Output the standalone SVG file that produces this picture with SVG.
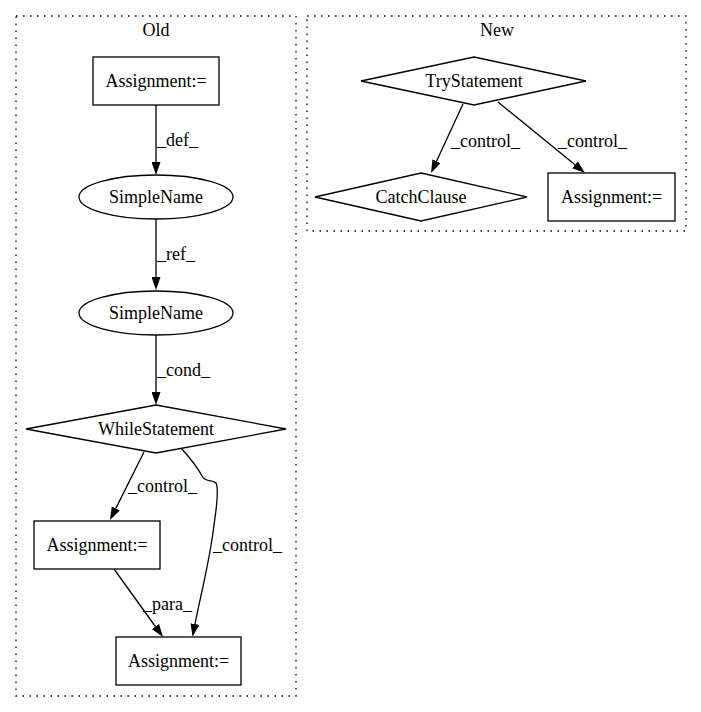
<svg xmlns="http://www.w3.org/2000/svg" width="701" height="712" viewBox="0 0 701 712">
<defs>
<style>
text{font-family:"Liberation Serif","Times New Roman",serif;font-size:18px;fill:#000}
.c{text-anchor:middle}
.shape{fill:#fff;stroke:#000;stroke-width:1.3}
.cluster{fill:none;stroke:#000;stroke-width:1.3;stroke-dasharray:1.5,5.5}
.edge{fill:none;stroke:#000;stroke-width:1.3;marker-end:url(#arrow)}
</style>
<marker id="arrow" viewBox="0 0 13 9" refX="0" refY="4.5" markerWidth="13" markerHeight="9" markerUnits="userSpaceOnUse" orient="auto">
<polygon points="0,0 13,4.5 0,9" fill="#000"/>
</marker>
</defs>
<rect width="701" height="712" fill="#fff"/>
<g id="cluster_old">
<rect class="cluster" x="16" y="16" width="280" height="680"/>
<text class="c" x="156" y="36">Old</text>
</g>
<g id="cluster_new">
<rect class="cluster" x="307" y="16" width="379" height="215"/>
<text class="c" x="497" y="36">New</text>
</g>
<g id="connectors">
<path class="edge" d="M156,105 L156,162"/>
<text x="157" y="146">_def_</text>
<path class="edge" d="M156,219 L156,277"/>
<text x="157" y="260">_ref_</text>
<path class="edge" d="M156,335 L156,392"/>
<text x="157" y="376">_cond_</text>
<path class="edge" d="M144,452 L115.8,508.4"/>
<text x="128" y="492">_control_</text>
<path class="edge" d="M181,448 C190,458 198,468 202,476 C206,483 213,479 216,483 C219,489 217,505 214,525 C210,560 200,598 195,624"/>
<text x="213" y="551">_control_</text>
<path class="edge" d="M114,569 L155.4,626.5"/>
<text x="143" y="610">_para_</text>
<path class="edge" d="M463,104 L436.5,161.2"/>
<text x="451" y="147">_control_</text>
<path class="edge" d="M498,102 L575,164.8"/>
<text x="558" y="147">_control_</text>
</g>
<g id="old_assign1">
<rect class="shape" x="93" y="57" width="126" height="48"/>
<text class="c" x="156" y="87">Assignment:=</text>
</g>
<g id="old_simplename1">
<ellipse class="shape" cx="156" cy="197" rx="77" ry="22"/>
<text class="c" x="156" y="203">SimpleName</text>
</g>
<g id="old_simplename2">
<ellipse class="shape" cx="156" cy="313" rx="77" ry="22"/>
<text class="c" x="156" y="319">SimpleName</text>
</g>
<g id="old_while">
<polygon class="shape" points="156,405 286,429 156,453 26,429"/>
<text class="c" x="156" y="435">WhileStatement</text>
</g>
<g id="old_assign2">
<rect class="shape" x="34" y="521" width="126" height="48"/>
<text class="c" x="97" y="551">Assignment:=</text>
</g>
<g id="old_assign3">
<rect class="shape" x="116" y="637" width="125" height="48"/>
<text class="c" x="178.5" y="667">Assignment:=</text>
</g>
<g id="new_try">
<polygon class="shape" points="474,57 586,81 474,105 361,81"/>
<text class="c" x="474" y="87">TryStatement</text>
</g>
<g id="new_catch">
<polygon class="shape" points="421,173 527,197 421,221 315,197"/>
<text class="c" x="421" y="203">CatchClause</text>
</g>
<g id="new_assign">
<rect class="shape" x="548" y="173" width="127" height="48"/>
<text class="c" x="611.5" y="203">Assignment:=</text>
</g>
</svg>
